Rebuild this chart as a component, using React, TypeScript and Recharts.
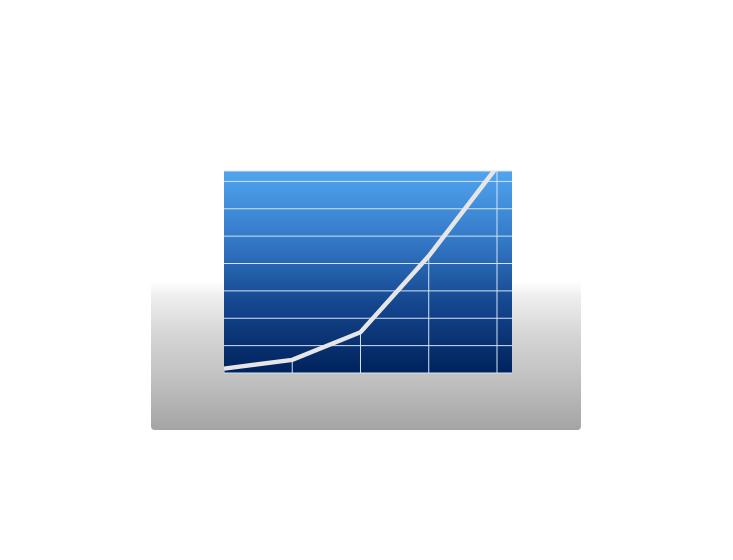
import {
  ComposedChart,
  Line,
  XAxis,
  YAxis,
  CartesianGrid,
  ReferenceLine,
} from "recharts";

// growth curve
const steps = [0, 1, 2, 3, 4];
const values = [0.16, 0.48, 1.49, 4.27, 7.53];
const gridTicks = [1, 2, 3, 4, 5, 6, 7];

const chartData = steps.map((x, i) => ({ x, value: values[i] }));

export default function App() {
  return (
    <div style={{ position: "relative", width: 717, height: 544 }}>
      {/* gray stand behind the panel */}
      <div
        style={{
          position: "absolute",
          left: 143,
          top: 274,
          width: 430,
          height: 148,
          borderRadius: "0 0 4px 4px",
          background:
            "linear-gradient(to bottom, #ffffff 0%, #efefef 9%, #d6d6d6 35%, #bdbdbd 70%, #a4a4a4 100%)",
        }}
      />
      <div style={{ position: "absolute", left: 0, top: 0 }}>
        <ComposedChart
          width={717}
          height={544}
          data={chartData}
          margin={{ top: 163, right: 213, left: 216, bottom: 179 }}
        >
          <defs>
            <linearGradient id="panelGrad" x1="0" y1="0" x2="0" y2="1">
              <stop offset="0%" stopColor="#50a4ee" />
              <stop offset="35%" stopColor="#3378c6" />
              <stop offset="65%" stopColor="#15478f" />
              <stop offset="100%" stopColor="#00225c" />
            </linearGradient>
          </defs>
          <CartesianGrid
            vertical={false}
            fill="url(#panelGrad)"
            fillOpacity={1}
            stroke="#d6e4f2"
            strokeWidth={1}
          />
          <XAxis type="number" dataKey="x" domain={[0, 4.22]} hide />
          <YAxis
            type="number"
            domain={[0, 7.38]}
            ticks={gridTicks}
            allowDataOverflow
            hide
          />
          {chartData.map((d) => (
            <ReferenceLine
              key={`drop-${d.x}`}
              segment={[
                { x: d.x, y: 0 },
                { x: d.x, y: d.value },
              ]}
              stroke="#d6e4f2"
              strokeWidth={1}
              ifOverflow="hidden"
            />
          ))}
          <Line
            type="linear"
            dataKey="value"
            stroke="#e6e6e6"
            strokeWidth={4.5}
            dot={false}
            activeDot={false}
            isAnimationActive={false}
          />
        </ComposedChart>
      </div>
    </div>
  );
}
